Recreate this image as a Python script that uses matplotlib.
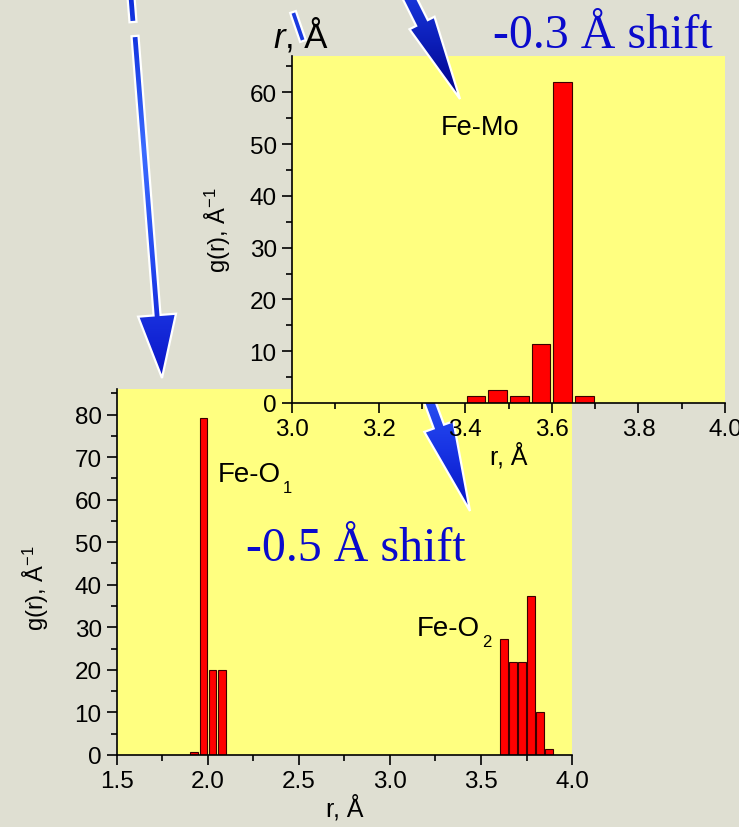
import numpy as np
import matplotlib
matplotlib.use("Agg")
import matplotlib.pyplot as plt
from matplotlib.patches import Polygon
from matplotlib.colors import LinearSegmentedColormap
from matplotlib.ticker import MultipleLocator, FormatStrFormatter

plt.rcParams['font.family'] = ['Liberation Sans', 'DejaVu Sans']
plt.rcParams['mathtext.fontset'] = 'custom'
plt.rcParams['mathtext.rm'] = 'Liberation Sans'
plt.rcParams['mathtext.it'] = 'Liberation Sans:italic'

# Fe-Mo histogram (upper inset)
femo_r = [3.425, 3.475, 3.525, 3.575, 3.625, 3.675]
femo_g = [1.3, 2.6, 1.3, 11.3, 62.0, 1.3]

# Fe-O histogram (lower inset)
feo_r = [1.925, 1.975, 2.025, 2.075, 3.625, 3.675, 3.725, 3.775, 3.825, 3.875]
feo_g = [0.8, 79.3, 20.0, 20.0, 27.3, 21.9, 21.9, 37.4, 10.0, 1.4]

W, H = 739, 828
YELLOW = '#ffff80'
BG = '#dfdfd2'

fig = plt.figure(figsize=(W / 100, H / 100), dpi=100, facecolor=BG)


def px_rect(x0, y0, x1, y1):
    # pixel box (y from top) -> figure fraction rect
    return [x0 / W, 1 - y1 / H, (x1 - x0) / W, (y1 - y0) / H]


def style_axes(ax, xmaj, xmin_, ymaj, ymin_, ylpad):
    ax.set_facecolor(YELLOW)
    for s in ['top', 'right']:
        ax.spines[s].set_visible(False)
    for s in ['left', 'bottom']:
        ax.spines[s].set_linewidth(1.2)
    ax.xaxis.set_major_locator(MultipleLocator(xmaj))
    ax.xaxis.set_minor_locator(MultipleLocator(xmin_))
    ax.yaxis.set_major_locator(MultipleLocator(ymaj))
    ax.yaxis.set_minor_locator(MultipleLocator(ymin_))
    ax.xaxis.set_major_formatter(FormatStrFormatter('%.1f'))
    ax.tick_params(which='major', direction='out', length=7, width=1.2,
                   labelsize=17.5, pad=4)
    ax.tick_params(which='minor', direction='out', length=4, width=1.2)
    ax.set_xlabel('r, Å', fontsize=18, labelpad=1)
    ax.set_ylabel(r'g(r), Å$^{\mathregular{-1}}$', fontsize=17,
                  labelpad=ylpad)


# lower inset
ax_lo = fig.add_axes(px_rect(117, 390, 572, 756), zorder=1)
ax_lo.bar(feo_r, feo_g, width=0.043, color='#ff0000', edgecolor='#3a0000',
          linewidth=0.8)
ax_lo.set_xlim(1.5, 4.0)
ax_lo.set_ylim(0, 86)
style_axes(ax_lo, 0.5, 0.25, 10, 5, 10)
ax_lo.yaxis.set_label_coords(-0.145, 0.46)

# upper inset
ax_up = fig.add_axes(px_rect(292, 57, 725, 404), zorder=3)
ax_up.bar(femo_r, femo_g, width=0.043, color='#ff0000', edgecolor='#3a0000',
          linewidth=0.8)
ax_up.set_xlim(3.0, 4.0)
ax_up.set_ylim(0, 67)
style_axes(ax_up, 0.2, 0.1, 10, 5, 12)


def overlay(z):
    ov = fig.add_axes([0, 0, 1, 1], zorder=z)
    ov.set_xlim(0, W)
    ov.set_ylim(H, 0)
    ov.set_axis_off()
    return ov


def draw_arrow(ov, start, tip, w, hl, hw, colors):
    x0, y0 = start
    x1, y1 = tip
    dx, dy = x1 - x0, y1 - y0
    L = np.hypot(dx, dy)
    ux, uy = dx / L, dy / L
    px, py = -uy, ux
    bx, by = x1 - ux * hl, y1 - uy * hl
    if hl > 0:
        pts = [(x0 + px * w / 2, y0 + py * w / 2),
               (bx + px * w / 2, by + py * w / 2),
               (bx + px * hw / 2, by + py * hw / 2),
               (x1, y1),
               (bx - px * hw / 2, by - py * hw / 2),
               (bx - px * w / 2, by - py * w / 2),
               (x0 - px * w / 2, y0 - py * w / 2)]
    else:
        pts = [(x0 + px * w / 2, y0 + py * w / 2),
               (x1 + px * w / 2, y1 + py * w / 2),
               (x1 - px * w / 2, y1 - py * w / 2),
               (x0 - px * w / 2, y0 - py * w / 2)]
    pts = np.array(pts)
    clip = Polygon(pts, closed=True, facecolor='none', edgecolor='none',
                   transform=ov.transData)
    ov.add_patch(clip)
    cmap = LinearSegmentedColormap.from_list('arr', colors)
    grad = cmap(np.linspace(0, 1, 200))[:, None, :3]
    xa, xb = pts[:, 0].min(), pts[:, 0].max()
    ya, yb = pts[:, 1].min(), pts[:, 1].max()
    im = ov.imshow(grad, extent=(xa, xb, yb, ya), origin='upper',
                   aspect='auto', interpolation='bilinear')
    im.set_clip_path(clip)
    ov.add_patch(Polygon(pts, closed=True, facecolor='none',
                         edgecolor='white', linewidth=1.6, joinstyle='miter'))
    ov.set_xlim(0, W)
    ov.set_ylim(H, 0)


ov_low = overlay(2)
ov_high = overlay(4)

# long arrow to the lower inset (dashed top)
draw_arrow(ov_low, (131, -2), (133, 23), 7, 0, 0, ['#0c2cd8', '#1436e0'])
draw_arrow(ov_low, (135, 37), (162, 379), 7, 63, 38,
           ['#1436e0', '#3c6cff', '#2448f0', '#0a14c8'])
# arrow to "-0.5 A shift" (partly hidden by upper inset)
draw_arrow(ov_low, (425, 390), (470, 512), 11, 90, 31,
           ['#2c54f4', '#1834e4', '#0612c4'])
# arrow into the Fe-Mo panel
draw_arrow(ov_high, (404, -12), (460, 100), 13, 85, 28,
           ['#1a3ce4', '#0c1eb8', '#000088'])
# small blue dash near the "r, A" label
draw_arrow(ov_high, (293, 13), (303, 42), 6, 0, 0, ['#1a3ae0', '#1a3ae0'])

# texts
ov_high.text(273, 48, 'r', fontsize=25, style='italic', ha='left',
             va='baseline')
ov_high.text(285, 48, ', Å', fontsize=25, ha='left', va='baseline')
ov_high.text(493, 48, '-0.3 Å shift', fontsize=34.5, color='#0a0acc',
             family=['Liberation Serif', 'DejaVu Serif'], ha='left',
             va='baseline')
ov_high.text(246, 561, '-0.5 Å shift', fontsize=34.5, color='#0a0acc',
             family=['Liberation Serif', 'DejaVu Serif'], ha='left',
             va='baseline')
ov_high.text(441, 135, 'Fe-Mo', fontsize=19.5, ha='left', va='baseline')
ov_high.text(218, 482, 'Fe-O', fontsize=20, ha='left', va='baseline')
ov_high.text(283, 493, '1', fontsize=12, ha='left', va='baseline')
ov_high.text(417, 636, 'Fe-O', fontsize=20, ha='left', va='baseline')
ov_high.text(482, 647, '2', fontsize=12, ha='left', va='baseline')

fig.savefig('out.png', dpi=100, facecolor=BG)
